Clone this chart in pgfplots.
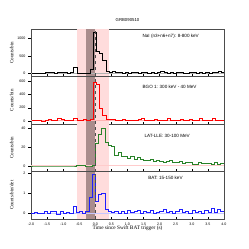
\documentclass[border=0pt]{standalone}
\usepackage{pgfplots}
\usepackage{pgfplotstable}
\pgfplotsset{compat=1.18}
\usepgfplotslibrary{groupplots}
\usepackage{fontspec}
\setmainfont{Liberation Serif}
\newfontfamily\lsans{Liberation Sans}
\definecolor{pinkband}{RGB}{255,220,220}
\definecolor{darkband}{RGB}{170,140,140}
\definecolor{latgreen}{RGB}{40,130,40}
\definecolor{batblue}{RGB}{30,30,255}

\pgfplotstableread{
t nai bgo lat bat
-2.0 20 10 0.3 0.0
-1.9 15 5 0.3 0.07
-1.8 25 15 0.3 0.0
-1.7 20 0 0.3 0.0
-1.6 35 10 0.3 0.13
-1.5 30 20 0.3 0.03
-1.4 40 5 0.3 0.1
-1.3 25 10 0.3 0.13
-1.2 30 35 0.3 -0.03
-1.1 45 25 0.3 0.1
-1.0 30 10 0.3 0.0
-0.9 25 5 0.3 0.07
-0.8 40 15 0.3 0.02
-0.7 180 35 0.3 0.36
-0.6 10 10 1.2 0.07
-0.5 5 5 1.0 0.1
-0.4 10 20 1.0 0.02
-0.3 25 15 0.3 0.1
-0.2 120 30 0.3 0.8
-0.1 1170 590 1.5 1.97
0.0 650 550 24 0.6
0.1 580 190 34 0.95
0.2 380 90 40 1.0
0.3 60 30 25 0.2
0.4 40 20 22 0.1
0.5 55 25 21 0.05
0.6 35 15 12 0.12
0.7 30 10 15 0.0
0.8 25 20 11 0.1
0.9 40 15 10 0.03
1.0 20 5 8 0.15
1.1 30 10 10 0.05
1.2 35 15 7 0.1
1.3 25 20 9 0.15
1.4 45 40 7 0.02
1.5 30 15 6 0.12
1.6 20 5 6 0.05
1.7 35 10 7 0.15
1.8 25 20 5 0.0
1.9 40 10 6 0.08
2.0 55 5 5 0.1
2.1 30 15 4 0.2
2.2 25 40 5 0.05
2.3 35 10 6 0.12
2.4 20 15 4 0.0
2.5 30 5 4 0.1
2.6 40 20 5 0.2
2.7 25 10 3 0.05
2.8 20 15 4 0.12
2.9 30 25 4 0.0
3.0 35 10 2 0.15
3.1 25 15 2 0.05
3.2 30 35 4 0.1
3.3 20 10 3 0.02
3.4 40 5 3 0.15
3.5 25 15 3 0.05
3.6 30 35 2 0.25
3.7 35 10 4 0.08
3.8 60 5 2 0.2
3.9 45 15 3 0.12
4.0 45 15 3 0.12
}\lc

\newcommand{\bands}[2]{%
  \addplot[fill=pinkband, draw=none, forget plot] coordinates {(-0.58,#1) (-0.58,#2) (0.41,#2) (0.41,#1)} -- cycle;
  \addplot[fill=darkband, draw=none, forget plot] coordinates {(-0.3,#1) (-0.3,#2) (0,#2) (0,#1)} -- cycle;
}
\newcommand{\zeroline}[2]{%
  \addplot[#1, line width=1pt, forget plot] coordinates {(-2,#2) (4,#2)};
}
\newcommand{\tzero}[2]{%
  \addplot[black!70, dashed, line width=0.4pt, forget plot] coordinates {(0,#1) (0,#2)};
}

\begin{document}
\begin{tikzpicture}
\begin{groupplot}[
  group style={group size=1 by 4, vertical sep=0pt, x descriptions at=edge bottom},
  width=193pt, height=47.5pt, scale only axis,
  xmin=-2, xmax=4,
  xtick={-2,-1.5,-1,-0.5,0,0.5,1,1.5,2,2.5,3,3.5,4},
  xticklabel style={/pgf/number format/.cd, fixed, fixed zerofill, precision=1},
  /pgf/number format/1000 sep={},
  tick label style={font=\fontsize{3.6}{4}\selectfont\lsans},
  /pgf/number format/assume math mode=true,
  xtick pos=bottom, ytick pos=left,
  x tick style={black, line width=0.4pt}, y tick style={black, line width=0.4pt},
  xtick align=inside, ytick align=outside,
  major tick length=2.5pt,
  axis line style={black!70, line width=0.5pt},
  every axis y label/.style={at={(axis description cs:-0.1,0.5)}, rotate=90, anchor=center, font=\fontsize{5}{6}\selectfont},
  every axis x label/.style={at={(axis description cs:0.5,-0.2)}, anchor=center, font=\fontsize{5.3}{6}\selectfont},
  yticklabel style={xshift=0.5pt},
  clip=true,
]
\nextgroupplot[ymin=-80, ymax=1270, ytick={0,500,1000}, ylabel={Counts/bin},
  title={GRB090510}, title style={at={(0.5,1)}, anchor=south, inner sep=1pt, font=\fontsize{4.3}{5}\selectfont\lsans}]
\bands{-80}{1270}
\zeroline{black!30}{0}
\addplot[black, const plot, line width=0.6pt] table[x expr=\thisrow{t}+0.03, y=nai] {\lc};
\tzero{-80}{1270}
\node[anchor=west, font=\fontsize{4.6}{5}\selectfont\lsans] at (rel axis cs:0.56,0.84) {NaI (n3+n6+n7): 8-800 keV};

\nextgroupplot[ymin=-46, ymax=672, ytick={0,200,400,600}, ylabel={Counts/bin}]
\bands{-46}{672}
\zeroline{red!30}{0}
\addplot[red, const plot, line width=0.6pt] table[x expr=\thisrow{t}+0.03, y=bgo] {\lc};
\tzero{-46}{672}
\node[anchor=west, font=\fontsize{4.6}{5}\selectfont\lsans] at (rel axis cs:0.56,0.79) {BGO 1: 300 keV - 40 MeV};

\nextgroupplot[ymin=-5.5, ymax=44.5, ytick={0,20,40}, ylabel={Counts/bin}]
\bands{-5.5}{44.5}
\zeroline{red!20}{0.7}
\addplot[latgreen, const plot, line width=0.6pt] table[x=t, y=lat] {\lc};
\tzero{-5.5}{44.5}
\node[anchor=west, font=\fontsize{4.6}{5}\selectfont\lsans] at (rel axis cs:0.57,0.75) {LAT-LLE: 30-100 MeV};

\nextgroupplot[ymin=-0.28, ymax=2.11, ytick={0,1,2}, ylabel={Counts/bin/det},
  xlabel={Time since Swift BAT trigger (s)}]
\bands{-0.28}{2.11}
\zeroline{batblue!25}{0}
\addplot[batblue, const plot, line width=0.6pt] table[x=t, y=bat] {\lc};
\tzero{-0.28}{2.11}
\node[anchor=west, font=\fontsize{4.6}{5}\selectfont\lsans] at (rel axis cs:0.59,0.87) {BAT: 15-150 keV};
\end{groupplot}
\pgfresetboundingbox
\path[use as bounding box] (group c1r1.north west) ++(-31pt,29pt) rectangle ++(249pt,-249pt);
\end{tikzpicture}
\end{document}
